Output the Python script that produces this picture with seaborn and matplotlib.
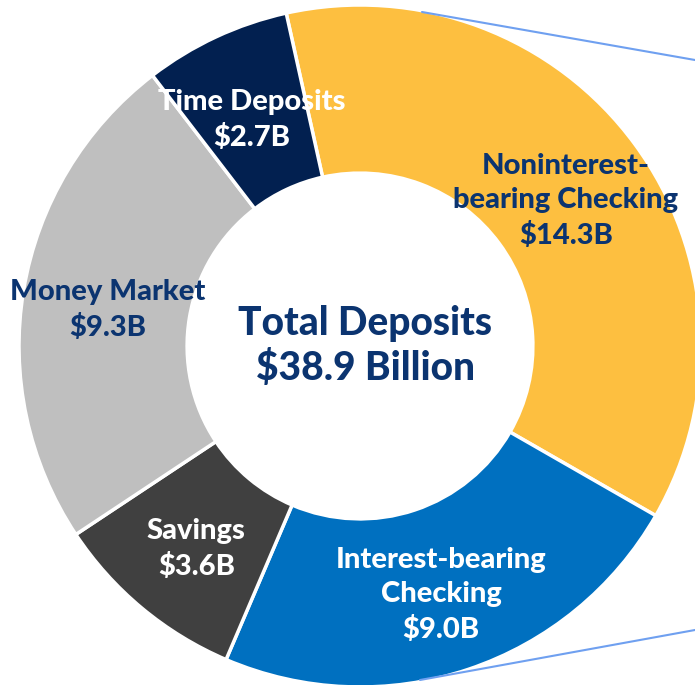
import numpy as np
import matplotlib
matplotlib.use("Agg")
import matplotlib.pyplot as plt
import seaborn as sns

# datos del grafico
categorias = ["Noninterest-\nbearing Checking", "Interest-bearing\nChecking", "Savings",
              "Money Market", "Time Deposits"]
valores = [14.3, 9.0, 3.6, 9.3, 2.7]
colores = ["#FDBF40", "#0070C0", "#404040", "#BFBFBF", "#022050"]
color_texto = ["#0B3470", "white", "white", "#0B3470", "white"]
total_label = "Total Deposits\n$38.9 Billion"

sns.set_theme(style="white")
plt.rcParams["font.family"] = ["Lato", "DejaVu Sans"]

fig = plt.figure(figsize=(6.95, 6.85), dpi=100)
ax = fig.add_axes([0, 0, 1, 1])

R = 341  # radio exterior en px
cx, cy = 360, 346
wedges, _ = ax.pie(valores, colors=colores, startangle=102.5, counterclock=False,
                   radius=1, wedgeprops=dict(width=0.493, edgecolor="white", linewidth=2.5))

# etiquetas en el angulo medio de cada porcion
for w, cat, v, tc in zip(wedges, categorias, valores, color_texto):
    ang = np.deg2rad((w.theta1 + w.theta2) / 2)
    x, y = 0.75 * np.cos(ang), 0.75 * np.sin(ang) - 0.018
    ax.text(x, y, f"{cat}\n${v:.1f}B", ha="center", va="center", color=tc,
            fontsize=21, fontweight="black", linespacing=1.4)

ax.text(0.015, 0.0, total_label, ha="center", va="center", color="#0B3470",
        fontsize=28, fontweight="black", linespacing=1.22)

# lineas de llamada hacia la derecha
ax.plot([(422 - cx) / R, (695 - cx) / R], [(cy - 12) / R, (cy - 60) / R],
        color="#6FA0F0", lw=1.5, clip_on=False)
ax.plot([(420 - cx) / R, (695 - cx) / R], [(cy - 680) / R, (cy - 630) / R],
        color="#6FA0F0", lw=1.5, clip_on=False)

ax.set_xlim(-cx / R, (695 - cx) / R)
ax.set_ylim(-(685 - cy) / R, cy / R)
ax.set_aspect("equal")
ax.axis("off")

fig.savefig("out.png", dpi=100)
